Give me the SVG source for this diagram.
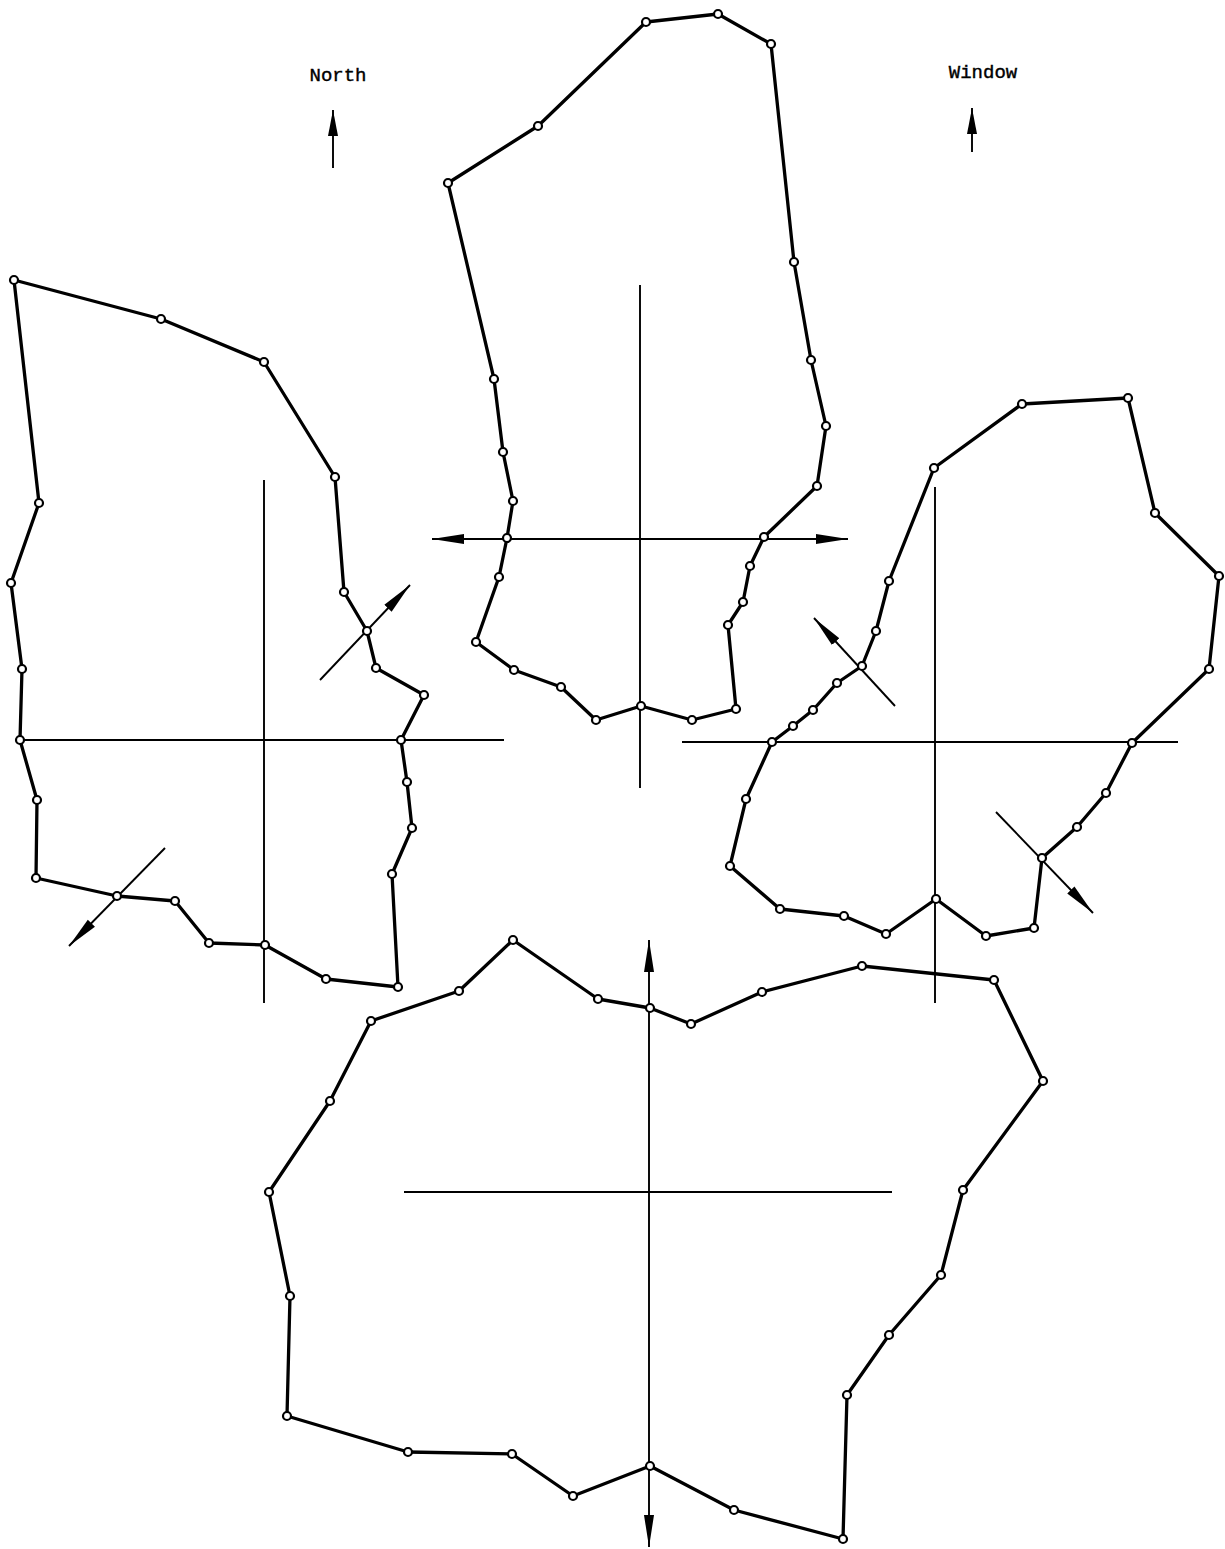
<svg xmlns="http://www.w3.org/2000/svg" width="1225" height="1549" viewBox="0 0 1225 1549">
<style>
.poly{fill:none;stroke:#000;stroke-width:3.3;stroke-linejoin:round}
.pt{fill:#fff;stroke:#000;stroke-width:2.2}
.ax{stroke:#000;stroke-width:1.9;fill:none}
.lbl{font-family:"Liberation Mono","DejaVu Sans Mono",monospace;font-size:19px;fill:#000;stroke:#000;stroke-width:0.4}
</style>
<defs>
<marker id="ah" markerUnits="userSpaceOnUse" viewBox="0 0 32 12" refX="32" refY="6" markerWidth="32" markerHeight="12" orient="auto-start-reverse">
<path d="M0,1 L32,6 L0,11 Z" fill="#000"/>
</marker>
<marker id="ahs" markerUnits="userSpaceOnUse" viewBox="0 0 26 12" refX="26" refY="6" markerWidth="26" markerHeight="12" orient="auto-start-reverse">
<path d="M0,1 L26,6 L0,11 Z" fill="#000"/>
</marker>
</defs>
<rect width="1225" height="1549" fill="#fff"/>
<g id="labels">
<text class="lbl" x="338" y="81" text-anchor="middle">North</text>
<text class="lbl" x="983" y="78" text-anchor="middle">Window</text>
<line class="ax" x1="333" y1="168" x2="333" y2="110" marker-end="url(#ahs)" stroke-width="2.2"/>
<line class="ax" x1="972" y1="152" x2="972" y2="108" marker-end="url(#ahs)" stroke-width="2.2"/>
</g>
<g id="connectors">
<line class="ax" x1="640" y1="285" x2="640" y2="788"/>
<line class="ax" x1="432" y1="539" x2="848" y2="539" marker-start="url(#ah)" marker-end="url(#ah)"/>
<line class="ax" x1="264" y1="480" x2="264" y2="1003"/>
<line class="ax" x1="20" y1="740" x2="504" y2="740"/>
<line class="ax" x1="320" y1="680" x2="410" y2="585" marker-end="url(#ah)"/>
<line class="ax" x1="165" y1="848" x2="69" y2="946" marker-end="url(#ah)"/>
<line class="ax" x1="935" y1="487" x2="935" y2="1003"/>
<line class="ax" x1="682" y1="742" x2="1178" y2="742"/>
<line class="ax" x1="895" y1="706" x2="814" y2="618" marker-end="url(#ah)"/>
<line class="ax" x1="996" y1="812" x2="1093" y2="913" marker-end="url(#ah)"/>
<line class="ax" x1="649" y1="940" x2="649" y2="1547" marker-start="url(#ah)" marker-end="url(#ah)"/>
<line class="ax" x1="404" y1="1192" x2="892" y2="1192"/>
</g>
<g id="top-region">
<polygon class="poly" points="646,22 718,14 771,44 794,262 811,360 826,426 817,486 764,537 750,566 743,602 728,625 736,709 692,720 641,706 596,720 561,687 514,670 476,642 499,577 507,538 513,501 503,452 494,379 448,183 538,126"/>
<g class="pts">
<circle class="pt" cx="646" cy="22" r="4"/><circle class="pt" cx="718" cy="14" r="4"/><circle class="pt" cx="771" cy="44" r="4"/><circle class="pt" cx="794" cy="262" r="4"/><circle class="pt" cx="811" cy="360" r="4"/><circle class="pt" cx="826" cy="426" r="4"/><circle class="pt" cx="817" cy="486" r="4"/><circle class="pt" cx="764" cy="537" r="4"/><circle class="pt" cx="750" cy="566" r="4"/><circle class="pt" cx="743" cy="602" r="4"/><circle class="pt" cx="728" cy="625" r="4"/><circle class="pt" cx="736" cy="709" r="4"/><circle class="pt" cx="692" cy="720" r="4"/><circle class="pt" cx="641" cy="706" r="4"/><circle class="pt" cx="596" cy="720" r="4"/><circle class="pt" cx="561" cy="687" r="4"/><circle class="pt" cx="514" cy="670" r="4"/><circle class="pt" cx="476" cy="642" r="4"/><circle class="pt" cx="499" cy="577" r="4"/><circle class="pt" cx="507" cy="538" r="4"/><circle class="pt" cx="513" cy="501" r="4"/><circle class="pt" cx="503" cy="452" r="4"/><circle class="pt" cx="494" cy="379" r="4"/><circle class="pt" cx="448" cy="183" r="4"/><circle class="pt" cx="538" cy="126" r="4"/>
</g>
</g>
<g id="left-region">
<polygon class="poly" points="14,280 161,319 264,362 335,477 344,592 367,631 376,668 424,695 401,740 407,782 412,828 392,874 398,987 326,979 265,945 209,943 175,901 117,896 36,878 37,800 20,740 22,669 11,583 39,503"/>
<g class="pts">
<circle class="pt" cx="14" cy="280" r="4"/><circle class="pt" cx="161" cy="319" r="4"/><circle class="pt" cx="264" cy="362" r="4"/><circle class="pt" cx="335" cy="477" r="4"/><circle class="pt" cx="344" cy="592" r="4"/><circle class="pt" cx="367" cy="631" r="4"/><circle class="pt" cx="376" cy="668" r="4"/><circle class="pt" cx="424" cy="695" r="4"/><circle class="pt" cx="401" cy="740" r="4"/><circle class="pt" cx="407" cy="782" r="4"/><circle class="pt" cx="412" cy="828" r="4"/><circle class="pt" cx="392" cy="874" r="4"/><circle class="pt" cx="398" cy="987" r="4"/><circle class="pt" cx="326" cy="979" r="4"/><circle class="pt" cx="265" cy="945" r="4"/><circle class="pt" cx="209" cy="943" r="4"/><circle class="pt" cx="175" cy="901" r="4"/><circle class="pt" cx="117" cy="896" r="4"/><circle class="pt" cx="36" cy="878" r="4"/><circle class="pt" cx="37" cy="800" r="4"/><circle class="pt" cx="20" cy="740" r="4"/><circle class="pt" cx="22" cy="669" r="4"/><circle class="pt" cx="11" cy="583" r="4"/><circle class="pt" cx="39" cy="503" r="4"/>
</g>
</g>
<g id="right-region">
<polygon class="poly" points="1022,404 1128,398 1155,513 1219,576 1209,669 1132,743 1106,793 1077,827 1042,858 1034,928 986,936 936,899 886,934 844,916 780,909 730,866 746,799 772,742 793,726 813,710 837,683 862,666 876,631 889,581 934,468"/>
<g class="pts">
<circle class="pt" cx="1022" cy="404" r="4"/><circle class="pt" cx="1128" cy="398" r="4"/><circle class="pt" cx="1155" cy="513" r="4"/><circle class="pt" cx="1219" cy="576" r="4"/><circle class="pt" cx="1209" cy="669" r="4"/><circle class="pt" cx="1132" cy="743" r="4"/><circle class="pt" cx="1106" cy="793" r="4"/><circle class="pt" cx="1077" cy="827" r="4"/><circle class="pt" cx="1042" cy="858" r="4"/><circle class="pt" cx="1034" cy="928" r="4"/><circle class="pt" cx="986" cy="936" r="4"/><circle class="pt" cx="936" cy="899" r="4"/><circle class="pt" cx="886" cy="934" r="4"/><circle class="pt" cx="844" cy="916" r="4"/><circle class="pt" cx="780" cy="909" r="4"/><circle class="pt" cx="730" cy="866" r="4"/><circle class="pt" cx="746" cy="799" r="4"/><circle class="pt" cx="772" cy="742" r="4"/><circle class="pt" cx="793" cy="726" r="4"/><circle class="pt" cx="813" cy="710" r="4"/><circle class="pt" cx="837" cy="683" r="4"/><circle class="pt" cx="862" cy="666" r="4"/><circle class="pt" cx="876" cy="631" r="4"/><circle class="pt" cx="889" cy="581" r="4"/><circle class="pt" cx="934" cy="468" r="4"/>
</g>
</g>
<g id="bottom-region">
<polygon class="poly" points="513,940 598,999 650,1008 691,1024 762,992 862,966 994,980 1043,1081 963,1190 941,1275 889,1335 847,1395 843,1539 734,1510 650,1466 573,1496 512,1454 408,1452 287,1416 290,1296 269,1192 330,1101 371,1021 459,991"/>
<g class="pts">
<circle class="pt" cx="513" cy="940" r="4"/><circle class="pt" cx="598" cy="999" r="4"/><circle class="pt" cx="650" cy="1008" r="4"/><circle class="pt" cx="691" cy="1024" r="4"/><circle class="pt" cx="762" cy="992" r="4"/><circle class="pt" cx="862" cy="966" r="4"/><circle class="pt" cx="994" cy="980" r="4"/><circle class="pt" cx="1043" cy="1081" r="4"/><circle class="pt" cx="963" cy="1190" r="4"/><circle class="pt" cx="941" cy="1275" r="4"/><circle class="pt" cx="889" cy="1335" r="4"/><circle class="pt" cx="847" cy="1395" r="4"/><circle class="pt" cx="843" cy="1539" r="4"/><circle class="pt" cx="734" cy="1510" r="4"/><circle class="pt" cx="650" cy="1466" r="4"/><circle class="pt" cx="573" cy="1496" r="4"/><circle class="pt" cx="512" cy="1454" r="4"/><circle class="pt" cx="408" cy="1452" r="4"/><circle class="pt" cx="287" cy="1416" r="4"/><circle class="pt" cx="290" cy="1296" r="4"/><circle class="pt" cx="269" cy="1192" r="4"/><circle class="pt" cx="330" cy="1101" r="4"/><circle class="pt" cx="371" cy="1021" r="4"/><circle class="pt" cx="459" cy="991" r="4"/>
</g>
</g>
</svg>
